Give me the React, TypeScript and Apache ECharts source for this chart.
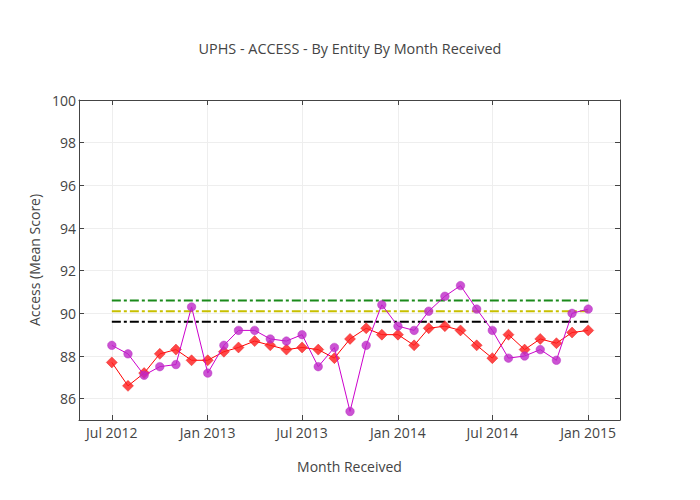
import React, { useEffect, useRef } from "react";
import * as echarts from "echarts";

const months: string[] = [
  "2012-07-01", "2012-08-01", "2012-09-01", "2012-10-01", "2012-11-01", "2012-12-01",
  "2013-01-01", "2013-02-01", "2013-03-01", "2013-04-01", "2013-05-01", "2013-06-01",
  "2013-07-01", "2013-08-01", "2013-09-01", "2013-10-01", "2013-11-01", "2013-12-01",
  "2014-01-01", "2014-02-01", "2014-03-01", "2014-04-01", "2014-05-01", "2014-06-01",
  "2014-07-01", "2014-08-01", "2014-09-01", "2014-10-01", "2014-11-01", "2014-12-01",
  "2015-01-01",
];

const redValues: number[] = [
  87.7, 86.6, 87.2, 88.1, 88.3, 87.8,
  87.8, 88.2, 88.4, 88.7, 88.5, 88.3, 88.4, 88.3, 87.9, 88.8, 89.3, 89.0,
  89.0, 88.5, 89.3, 89.4, 89.2, 88.5, 87.9, 89.0, 88.3, 88.8, 88.6, 89.1,
  89.2,
];

const purpleValues: number[] = [
  88.5, 88.1, 87.1, 87.5, 87.6, 90.3,
  87.2, 88.5, 89.2, 89.2, 88.8, 88.7, 89.0, 87.5, 88.4, 85.4, 88.5, 90.4,
  89.4, 89.2, 90.1, 90.8, 91.3, 90.2, 89.2, 87.9, 88.0, 88.3, 87.8, 90.0,
  90.2,
];

const limitNames: string[] = ["Upper", "Target", "Lower"];
const limitValues: number[] = [90.6, 90.1, 89.6];
const limitColors: string[] = ["#1a8a1a", "#c8c000", "#000000"];

const xTickDates: string[] = ["2012-07-01", "2013-01-01", "2013-07-01", "2014-01-01", "2014-07-01", "2015-01-01"];
const xTickLabels: string[] = ["Jul 2012", "Jan 2013", "Jul 2013", "Jan 2014", "Jul 2014", "Jan 2015"];
const yTickValues: number[] = [86, 88, 90, 92, 94, 96, 98, 100];

const X_MIN = "2012-04-29";
const X_MAX = "2015-03-03";
const Y_MIN = 85;
const Y_MAX = 100;

const toTs = (s: string) => {
  const [y, m, d] = s.split("-").map(Number);
  return Date.UTC(y, m - 1, d);
};

export default function App() {
  const ref = useRef<HTMLDivElement>(null);

  useEffect(() => {
    document.body.style.margin = "0";
    if (!ref.current) return;
    const chart = echarts.init(ref.current, undefined, { renderer: "svg" });
    const font = "'Open Sans', 'DejaVu Sans', sans-serif";
    const txt = "#444";
    const tickTs = xTickDates.map(toTs);

    const xLabel = (v: number) => {
      const i = tickTs.findIndex((t) => Math.abs(t - v) < 86400000);
      return i >= 0 ? xTickLabels[i] : "";
    };

    const limitSeries = limitValues.map((v, i) => ({
      name: limitNames[i],
      type: "line",
      data: [
        [toTs(months[0]), v],
        [toTs(months[months.length - 1]), v],
      ],
      showSymbol: false,
      symbol: "none",
      lineStyle: { color: limitColors[i], width: 2, type: [9, 3, 3, 3] },
      silent: true,
      z: 2,
    }));

    chart.setOption({
      animation: false,
      backgroundColor: "#fff",
      textStyle: { fontFamily: font },
      title: {
        text: "UPHS - ACCESS - By Entity By Month Received",
        left: "center",
        top: 36,
        textStyle: { fontFamily: font, fontSize: 14.4, fontWeight: "normal", color: txt },
      },
      grid: { left: 79, right: 80, top: 100, bottom: 80, containLabel: false },
      xAxis: [
        {
          type: "value",
          min: toTs(X_MIN),
          max: toTs(X_MAX),
          name: "Month Received",
          nameLocation: "middle",
          nameGap: 39,
          nameTextStyle: { fontFamily: font, fontSize: 14, color: txt },
          axisLine: { show: true, onZero: false, lineStyle: { color: txt, width: 1 } },
          axisTick: { show: true, inside: true, length: 5, lineStyle: { color: txt }, customValues: tickTs },
          axisLabel: {
            customValues: tickTs,
            formatter: (v: number) => xLabel(v),
            fontFamily: font,
            fontSize: 14,
            color: txt,
            margin: 5,
          },
          splitLine: { show: true, lineStyle: { color: "#eeeeee", width: 1 } },
        },
        {
          type: "value",
          position: "top",
          min: toTs(X_MIN),
          max: toTs(X_MAX),
          axisLine: { show: true, onZero: false, lineStyle: { color: txt, width: 1 } },
          axisTick: { show: true, inside: true, length: 5, lineStyle: { color: txt }, customValues: tickTs },
          axisLabel: { show: false, customValues: tickTs },
          splitLine: { show: false },
        },
      ],
      yAxis: [
        {
          type: "value",
          min: Y_MIN,
          max: Y_MAX,
          name: "Access (Mean Score)",
          nameLocation: "middle",
          nameGap: 34,
          nameTextStyle: { fontFamily: font, fontSize: 14, color: txt },
          axisLine: { show: true, onZero: false, lineStyle: { color: txt, width: 1 } },
          axisTick: { show: true, inside: true, length: 5, lineStyle: { color: txt }, customValues: yTickValues },
          axisLabel: {
            customValues: yTickValues,
            fontFamily: font,
            fontSize: 14,
            color: txt,
            margin: 3,
          },
          splitLine: { show: true, lineStyle: { color: "#eeeeee", width: 1 } },
        },
        {
          type: "value",
          position: "right",
          min: Y_MIN,
          max: Y_MAX,
          axisLine: { show: true, onZero: false, lineStyle: { color: txt, width: 1 } },
          axisTick: { show: true, inside: true, length: 5, lineStyle: { color: txt }, customValues: yTickValues },
          axisLabel: { show: false, customValues: yTickValues },
          splitLine: { show: false },
        },
      ],
      series: [
        ...limitSeries,
        {
          name: "Entity A",
          type: "line",
          data: months.map((m, i) => [toTs(m), redValues[i]]),
          symbol: "diamond",
          symbolSize: 11,
          showAllSymbol: true,
          lineStyle: { color: "#ff0000", width: 1 },
          itemStyle: { color: "rgba(255,30,30,0.82)", borderColor: "rgba(230,30,30,0.9)", borderWidth: 0.5 },
          z: 3,
        },
        {
          name: "Entity B",
          type: "line",
          data: months.map((m, i) => [toTs(m), purpleValues[i]]),
          symbol: "circle",
          symbolSize: 8.5,
          showAllSymbol: true,
          lineStyle: { color: "#cc00cc", width: 1 },
          itemStyle: { color: "rgba(190,40,200,0.8)", borderColor: "rgba(180,40,190,0.9)", borderWidth: 0.5 },
          z: 4,
        },
      ],
    });

    return () => chart.dispose();
  }, []);

  return <div ref={ref} style={{ width: 700, height: 500, position: "absolute", left: 0, top: 0 }} />;
}
